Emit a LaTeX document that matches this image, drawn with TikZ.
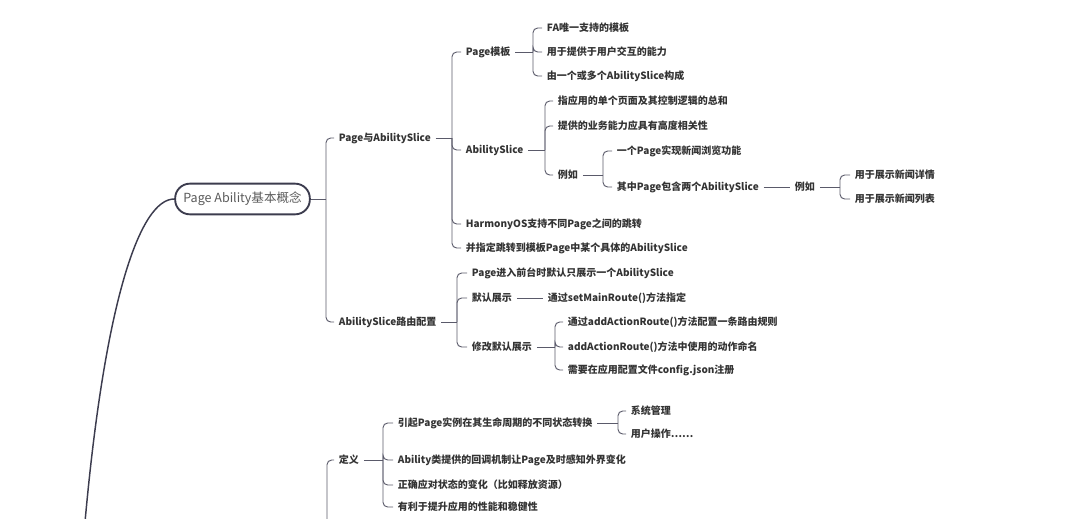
\documentclass[tikz,border=0pt]{standalone}
\usepackage{fontspec}
\usepackage{tikz}
\usepackage{xcolor}
\newfontfamily\cjk{Noto Sans CJK SC}
\definecolor{linegray}{HTML}{5A5A6A}
\definecolor{rootline}{HTML}{3C3C4E}
\definecolor{textgray}{HTML}{333333}
\definecolor{roottext}{HTML}{5A5A5A}

\begin{document}
\begin{tikzpicture}[
        x=0.75pt, y=-0.75pt,
        every node/.style={font=\cjk\fontsize{7.5}{9}\selectfont},
        topic/.style={anchor=west, inner xsep=3.5pt, inner ysep=1pt, text=textgray, font=\cjk\bfseries\fontsize{7.5}{9}\selectfont},
        root/.style={draw=rootline, line width=1.4pt, rounded corners=11pt, minimum width=101pt, minimum height=23pt, text=roottext, font=\cjk\fontsize{9.4}{11}\selectfont},
        link/.style={draw=linegray, line width=0.7pt},
        brace/.style={link, rounded corners=3.5pt},
        stem/.style={draw=rootline, line width=1.1pt}
    ]
        \useasboundingbox (0,0) rectangle (1080,518);

        \node[root] (root) at (242.5,199) {Page Ability基本概念};
        \coordinate (tail) at (85,522);

        \node[topic] (pageSlice) at (334,138) {Page与AbilitySlice};
        \node[topic] (routeCfg) at (334,322) {AbilitySlice路由配置};

        \node[topic] (pageTpl) at (461,52) {Page模板};
        \node[topic] (slice) at (461,150) {AbilitySlice};
        \node[topic] (jump) at (461,224) {HarmonyOS支持不同Page之间的跳转};
        \node[topic] (jumpSlice) at (461,248) {并指定跳转到模板Page中某个具体的AbilitySlice};

        \node[topic] (faOnly) at (542,28) {FA唯一支持的模板};
        \node[topic] (userIf) at (542,52) {用于提供于用户交互的能力};
        \node[topic] (sliceMade) at (542,76) {由一个或多个AbilitySlice构成};

        \node[topic] (whole) at (553,101) {指应用的单个页面及其控制逻辑的总和};
        \node[topic] (related) at (553,126) {提供的业务能力应具有高度相关性};
        \node[topic] (example) at (553,175) {例如};

        \node[topic] (news) at (612,151) {一个Page实现新闻浏览功能};
        \node[topic] (twoSlice) at (612,187) {其中Page包含两个AbilitySlice};
        \node[topic] (exampleTwo) at (790,187) {例如};
        \node[topic] (detail) at (850,175) {用于展示新闻详情};
        \node[topic] (list) at (850,199) {用于展示新闻列表};

        \node[topic] (foreground) at (467,273) {Page进入前台时默认只展示一个AbilitySlice};
        \node[topic] (defShow) at (467,298) {默认展示};
        \node[topic] (modShow) at (467,347) {修改默认展示};
        \node[topic] (mainRoute) at (543,298) {通过setMainRoute()方法指定};
        \node[topic] (addRule) at (563,322) {通过addActionRoute()方法配置一条路由规则};
        \node[topic] (actName) at (563,347) {addActionRoute()方法中使用的动作命名};
        \node[topic] (cfgJson) at (563,370) {需要在应用配置文件config.json注册};

        \node[topic] (define) at (334,460) {定义};
        \node[topic] (cause) at (393,423) {引起Page实例在其生命周期的不同状态转换};
        \node[topic] (callback) at (393,460) {Ability类提供的回调机制让Page及时感知外界变化};
        \node[topic] (react) at (393,485) {正确应对状态的变化（比如释放资源）};
        \node[topic] (perf) at (393,507) {有利于提升应用的性能和稳健性};
        \node[topic] (sysMgr) at (626,411) {系统管理};
        \node[topic] (userOp) at (626,434) {用户操作……};

        \coordinate (jRoot) at (326,199);
        \coordinate (jPS) at (452,138);
        \coordinate (jTpl) at (533,52);
        \coordinate (jSl) at (545,150);
        \coordinate (jEx) at (603,175);
        \coordinate (jExTwo) at (840,187);
        \coordinate (jRt) at (457,322);
        \coordinate (jMod) at (555,347);
        \coordinate (jDef) at (383,460);
        \coordinate (jCause) at (618,423);
        \coordinate (jLow) at (327,522);

        \draw[stem] (root.west) .. controls (140,199) and (105,300) .. (tail);

        \draw[link] (root) -- (jRoot);
        \foreach \c in {pageSlice,routeCfg} \draw[brace] (jRoot) |- (\c.west);

        \draw[link] (pageSlice) -- (jPS);
        \foreach \c in {pageTpl,slice,jump,jumpSlice} \draw[brace] (jPS) |- (\c.west);

        \draw[link] (pageTpl) -- (jTpl);
        \foreach \c in {faOnly,userIf,sliceMade} \draw[brace] (jTpl) |- (\c.west);

        \draw[link] (slice) -- (jSl);
        \foreach \c in {whole,related,example} \draw[brace] (jSl) |- (\c.west);

        \draw[link] (example) -- (jEx);
        \foreach \c in {news,twoSlice} \draw[brace] (jEx) |- (\c.west);

        \draw[link] (twoSlice) -- (exampleTwo);
        \draw[link] (exampleTwo) -- (jExTwo);
        \foreach \c in {detail,list} \draw[brace] (jExTwo) |- (\c.west);

        \draw[link] (routeCfg) -- (jRt);
        \foreach \c in {foreground,defShow,modShow} \draw[brace] (jRt) |- (\c.west);

        \draw[link] (defShow) -- (mainRoute);

        \draw[link] (modShow) -- (jMod);
        \foreach \c in {addRule,actName,cfgJson} \draw[brace] (jMod) |- (\c.west);

        \draw[brace] (jLow) |- (define.west);
        \draw[link] (define) -- (jDef);
        \foreach \c in {cause,callback,react,perf} \draw[brace] (jDef) |- (\c.west);

        \draw[link] (cause) -- (jCause);
        \foreach \c in {sysMgr,userOp} \draw[brace] (jCause) |- (\c.west);
    \end{tikzpicture}
\end{document}
